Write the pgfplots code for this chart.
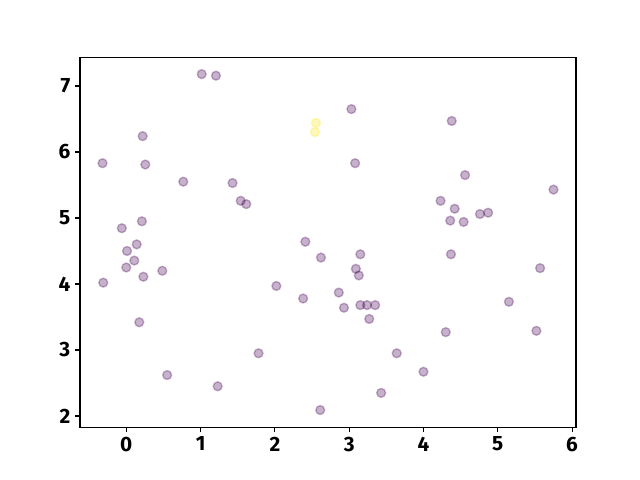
\documentclass[border=0pt]{standalone}
\usepackage{fontspec}
\setmainfont{Fira Sans}
\usepackage{pgfplots}
\pgfplotsset{compat=1.18}
\definecolor{vlow}{HTML}{440154}
\definecolor{vhigh}{HTML}{FDE725}
\begin{document}
\begin{tikzpicture}
\begin{axis}[
  scale only axis, width=4.96in, height=3.696in,
  xmin=-0.623, xmax=6.053, ymin=1.83, ymax=7.43,
  xtick={0,1,2,3,4,5,6}, ytick={2,3,4,5,6,7},
  tick align=outside, xtick pos=left, ytick pos=left,
  major tick length=3.5pt, axis line style={line width=0.8pt},
  tick style={line width=0.8pt, black},
  tick label style={font=\fontsize{15}{17}\selectfont\bfseries},
  /pgf/number format/assume math mode=true,
  every axis plot/.append style={only marks, mark=*, mark size=3.2pt},
]
\addplot[vlow, fill opacity=0.3, draw opacity=0.3, mark options={line width=1pt}] coordinates {
  (1.015,7.18) (1.207,7.156) (0.22,6.24) (-0.32,5.83) (0.256,5.81)
  (0.767,5.55) (1.43,5.53) (1.54,5.26) (1.615,5.21) (0.21,4.95)
  (-0.06,4.845) (0.14,4.60) (2.41,4.64)
  (3.03,6.65) (4.38,6.47) (3.08,5.83) (4.56,5.65) (5.75,5.43)
  (4.23,5.26) (4.42,5.14) (4.36,4.96) (4.54,4.94) (4.76,5.06) (4.87,5.08)
  (0.01,4.50) (0.108,4.355) (0.0,4.25) (0.23,4.11) (0.485,4.20)
  (-0.31,4.02) (0.175,3.42) (0.55,2.62) (1.23,2.45) (1.78,2.95)
  (2.02,3.97) (2.38,3.78) (2.62,4.40) (2.61,2.09)
  (3.15,4.45) (4.37,4.45) (5.57,4.24) (3.09,4.23) (3.13,4.13)
  (2.86,3.87) (2.93,3.64) (3.15,3.68) (3.24,3.68) (3.35,3.68)
  (3.27,3.47) (5.15,3.73) (5.52,3.29) (4.30,3.27) (3.64,2.95)
  (4.00,2.67) (3.43,2.35)
};
\addplot[vhigh, fill opacity=0.3, draw opacity=0.3, mark options={line width=1pt}] coordinates {
  (2.553,6.44) (2.54,6.30)
};
\end{axis}
\path ([shift={(-0.8in,-0.528in)}]current axis.south west) rectangle ([shift={(0.64in,0.576in)}]current axis.north east);
\end{tikzpicture}
\end{document}
